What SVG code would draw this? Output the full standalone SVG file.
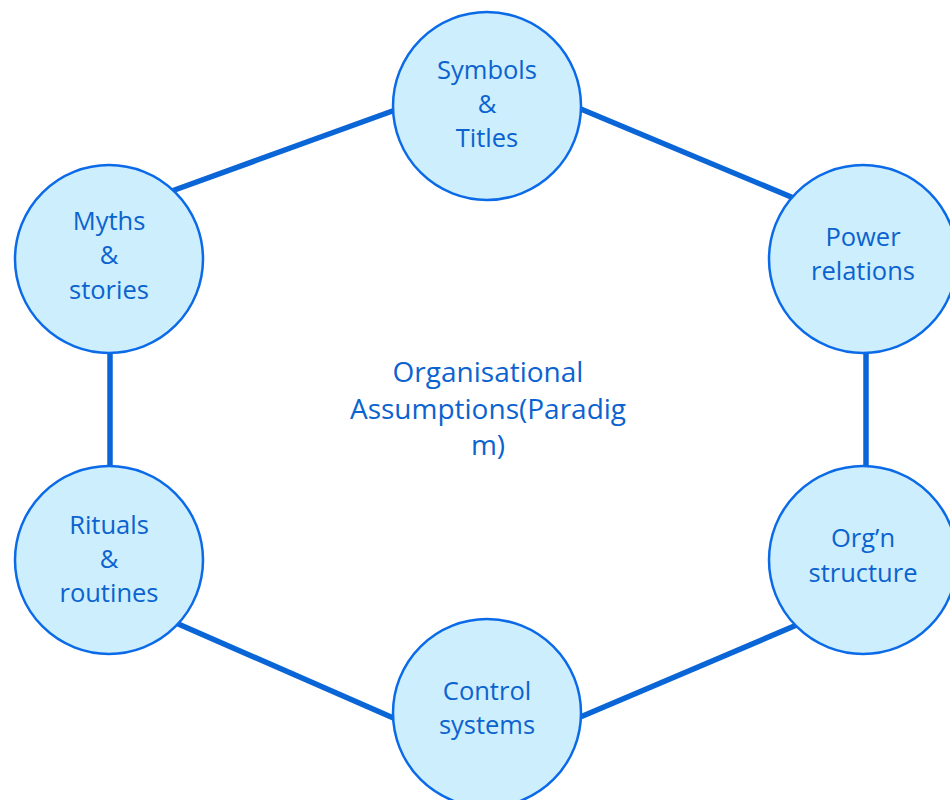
<svg xmlns="http://www.w3.org/2000/svg" width="950" height="800" viewBox="0 0 950 800">
<style>
.c{fill:#cdeefd;stroke:#0a6ae8;stroke-width:2.5}
.l{stroke:#0a66d6;stroke-width:5.5;fill:none}
text{font-family:"Open Sans","Noto Sans","Liberation Sans",sans-serif;font-size:25.5px;fill:#0b63cf;text-anchor:middle}
.big{font-size:28px}
</style>
<rect width="950" height="800" fill="#ffffff"/>
<g id="connectors">
<line class="l" x1="169" y1="192" x2="398" y2="109"/>
<line class="l" x1="576" y1="107" x2="796" y2="199"/>
<line class="l" x1="176" y1="623" x2="398" y2="720"/>
<line class="l" x1="578" y1="718" x2="799" y2="624"/>
<line class="l" x1="110" y1="350" x2="110" y2="470"/>
<line class="l" x1="866" y1="350" x2="866" y2="470"/>
</g>
<g id="symbols">
<circle class="c" cx="487" cy="106" r="94"/>
<text x="487" y="79">Symbols</text>
<text x="487" y="113">&amp;</text>
<text x="487" y="147">Titles</text>
</g>
<g id="power">
<circle class="c" cx="863" cy="259" r="94"/>
<text x="863" y="246">Power</text>
<text x="863" y="280">relations</text>
</g>
<g id="orgn">
<circle class="c" cx="863" cy="560" r="94"/>
<text x="863" y="547">Org’n</text>
<text x="863" y="582">structure</text>
</g>
<g id="control">
<circle class="c" cx="487" cy="713" r="94"/>
<text x="487" y="700">Control</text>
<text x="487" y="734">systems</text>
</g>
<g id="rituals">
<circle class="c" cx="109" cy="560" r="94"/>
<text x="109" y="534">Rituals</text>
<text x="109" y="568">&amp;</text>
<text x="109" y="602">routines</text>
</g>
<g id="myths">
<circle class="c" cx="109" cy="259" r="94"/>
<text x="109" y="230">Myths</text>
<text x="109" y="264">&amp;</text>
<text x="109" y="299">stories</text>
</g>
<g id="center">
<text class="big" x="488" y="382">Organisational</text>
<text class="big" x="488" y="419">Assumptions(Paradig</text>
<text class="big" x="488" y="455">m)</text>
</g>
</svg>
